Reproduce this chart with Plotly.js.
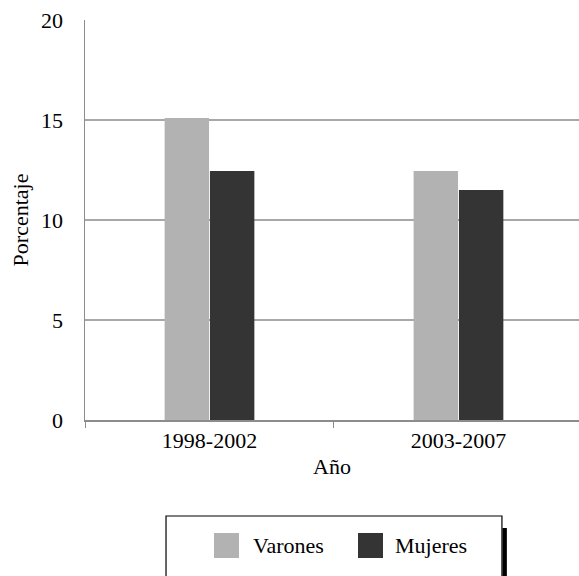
<!DOCTYPE html>
<html>
<head>
<meta charset="utf-8">
<script src="https://cdn.plot.ly/plotly-3.0.1.min.js"></script>
<style>html,body{margin:0;padding:0;background:#fff;overflow:hidden}</style>
</head>
<body>
<div id="chart" style="width:579px;height:576px"></div>
<script>
const categories = ["1998-2002", "2003-2007"];
const seriesNames = ["Varones", "Mujeres"];
const varones = [15.1, 12.45];
const mujeres = [12.45, 11.5];
const colors = ["#b2b2b2", "#343434"];
const yTicks = [0, 5, 10, 15, 20];

const FONT = "Liberation Serif";

const traces = [
  {type: "bar", name: seriesNames[0], x: categories, y: varones, marker: {color: colors[0]}, showlegend: false},
  {type: "bar", name: seriesNames[1], x: categories, y: mujeres, marker: {color: colors[1]}, showlegend: false}
];

// legend drawn as shapes/annotations in paper coordinates
const legendSwatchX = [[0.2611, 0.3117], [0.5526, 0.6032]];
const legendTextX = [0.336, 0.623];
const shapes = [
  {type: "rect", xref: "paper", yref: "paper", x0: 0.164, x1: 0.844, y0: -0.24, y1: -0.45,
   line: {color: "#000", width: 1.2}, fillcolor: "rgba(0,0,0,0)"},
  {type: "rect", xref: "paper", yref: "paper", x0: 0.845, x1: 0.854, y0: -0.27, y1: -0.45,
   line: {width: 0}, fillcolor: "#000"}
];
const annotations = [];
seriesNames.forEach((n, i) => {
  shapes.push({type: "rect", xref: "paper", yref: "paper", x0: legendSwatchX[i][0], x1: legendSwatchX[i][1],
    y0: -0.2825, y1: -0.345, line: {width: 0}, fillcolor: colors[i]});
  annotations.push({xref: "paper", yref: "paper", x: legendTextX[i], y: -0.314, xanchor: "left", yanchor: "middle",
    text: n, showarrow: false, font: {family: FONT, size: 22, color: "#000"}});
});

const layout = {
  width: 579, height: 576,
  margin: {l: 85, r: 0, t: 20, b: 156},
  paper_bgcolor: "#fff", plot_bgcolor: "#fff",
  font: {family: FONT, size: 22, color: "#000"},
  barmode: "group", bargap: 0.636, bargroupgap: 0.02,
  xaxis: {
    type: "category", range: [-0.5, 1.484],
    showline: true, linecolor: "#8c8c8c", linewidth: 1.5,
    ticks: "outside", tickson: "boundaries", ticklen: 6, tickcolor: "#8c8c8c",
    showgrid: false, zeroline: false,
    tickfont: {family: FONT, size: 22, color: "#000"},
    title: {text: "Año", font: {family: FONT, size: 22, color: "#000"}, standoff: 6},
    automargin: false
  },
  yaxis: {
    range: [0, 20], tickvals: yTicks, ticktext: yTicks.map(String),
    showline: true, linecolor: "#8c8c8c", linewidth: 1.5,
    ticks: "", ticklabelstandoff: 16,
    showgrid: true, gridcolor: "#a8a8a8", gridwidth: 1.5, zeroline: false,
    tickfont: {family: FONT, size: 22, color: "#000"},
    title: {text: "Porcentaje", font: {family: FONT, size: 22, color: "#000"}, standoff: 6},
    automargin: false
  },
  shapes: shapes,
  annotations: annotations,
  showlegend: false
};

Plotly.newPlot("chart", traces, layout, {displayModeBar: false, staticPlot: true});
</script>
</body>
</html>
